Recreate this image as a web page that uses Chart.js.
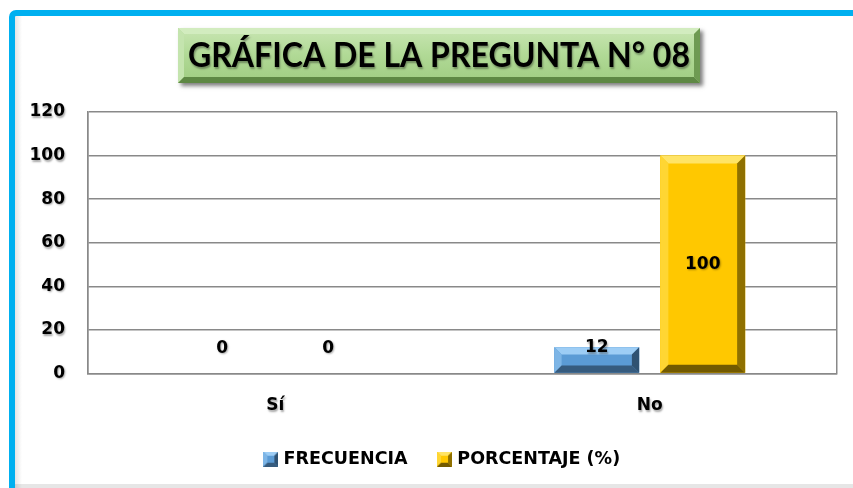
<!DOCTYPE html>
<html><head><meta charset="utf-8">
<script src="https://cdn.jsdelivr.net/npm/chart.js@4"></script>
<style>html,body{margin:0;padding:0;background:#fff;overflow:hidden}canvas{display:block}</style>
</head><body>
<canvas id="c" width="853" height="488"></canvas>
<script>
// ---- data ----
const titleText = 'GRÁFICA DE LA PREGUNTA N° 08';
const categories = ['Sí', 'No'];
const seriesNames = ['FRECUENCIA', 'PORCENTAJE (%)'];
const frecuencia = [0, 12];
const porcentaje = [0, 100];
const yMin = 0, yMax = 120, yStep = 20;

// ---- styles ----
const FONT = '"DejaVu Sans", "Liberation Sans", sans-serif';
const TFONT = 'Lato, "DejaVu Sans", sans-serif';
const palBlue = {face:'#5B9BD5', top:'#9DCDF5', left:'#7DB5E6', right:'#2F5272', bottom:'#365B7E'};
const palGold = {face:'#FFC800', top:'#FFE466', left:'#FFD633', right:'#8F7000', bottom:'#735A00'};

function bevelRect(ctx, l, t, r, bt, pal, b) {
  ctx.save();
  ctx.fillStyle = pal.face; ctx.fillRect(l, t, r - l, bt - t);
  const poly = (pts, c) => { ctx.beginPath(); ctx.moveTo(pts[0][0], pts[0][1]); for (let i = 1; i < pts.length; i++) ctx.lineTo(pts[i][0], pts[i][1]); ctx.closePath(); ctx.fillStyle = c; ctx.fill(); };
  poly([[l,t],[r,t],[r-b,t+b],[l+b,t+b]], pal.top);
  poly([[l,t],[l+b,t+b],[l+b,bt-b],[l,bt]], pal.left);
  poly([[r,t],[r,bt],[r-b,bt-b],[r-b,t+b]], pal.right);
  poly([[l,bt],[r,bt],[r-b,bt-b],[l+b,bt-b]], pal.bottom);
  ctx.restore();
}
function legendIcon(pal) {
  const cv = document.createElement('canvas'); cv.width = 15; cv.height = 15;
  bevelRect(cv.getContext('2d'), 0, 0, 15, 15, pal, 4);
  return cv;
}
function setShadow(ctx) {
  ctx.shadowColor = 'rgba(0,0,0,0.35)'; ctx.shadowOffsetX = 1; ctx.shadowOffsetY = 1.5; ctx.shadowBlur = 2;
}

const framePlugin = {
  id: 'frame',
  beforeDraw(chart) {
    const ctx = chart.ctx;
    ctx.save();
    ctx.fillStyle = '#fff'; ctx.fillRect(0, 0, chart.width, chart.height);
    ctx.fillStyle = '#e6e6e6'; ctx.fillRect(15, 484, 838, 4);
    const g = ctx.createLinearGradient(15, 0, 22, 0);
    g.addColorStop(0, 'rgba(0,0,0,0.10)'); g.addColorStop(1, 'rgba(0,0,0,0)');
    ctx.fillStyle = g; ctx.fillRect(15, 16, 7, 472);
    ctx.strokeStyle = '#00B0F0'; ctx.lineWidth = 6;
    ctx.beginPath(); ctx.moveTo(12, 490); ctx.lineTo(12, 17); ctx.arcTo(12, 13, 16, 13, 4); ctx.lineTo(860, 13); ctx.stroke();
    // title box
    const l = 178, t = 28, r = 700, b = 83;
    ctx.save();
    ctx.shadowColor = 'rgba(0,0,0,0.5)'; ctx.shadowOffsetX = 3; ctx.shadowOffsetY = 3; ctx.shadowBlur = 4;
    ctx.fillStyle = '#B3DA98'; ctx.fillRect(l, t, r - l, b - t);
    ctx.restore();
    bevelRect(ctx, l, t, r, b, {face:'#B3DA98', top:'#D2ECBF', left:'#C4E4AE', right:'#6E9A52', bottom:'#5E8844'}, 6);
    const fg = ctx.createLinearGradient(0, t + 6, 0, b - 6);
    fg.addColorStop(0, '#C3E3AC'); fg.addColorStop(0.5, '#B0D995'); fg.addColorStop(1, '#A3CF86');
    ctx.fillStyle = fg; ctx.fillRect(l + 6, t + 6, r - l - 12, b - t - 12);
    ctx.font = 'bold 34px ' + TFONT;
    const w = ctx.measureText(titleText).width;
    ctx.translate(439, 67);
    ctx.scale(502 / w, 1);
    ctx.textAlign = 'center'; ctx.textBaseline = 'alphabetic';
    ctx.shadowColor = 'rgba(0,0,0,0.35)'; ctx.shadowOffsetX = 1; ctx.shadowOffsetY = 2; ctx.shadowBlur = 2;
    ctx.fillStyle = '#000';
    ctx.fillText(titleText, 0, 0);
    ctx.restore();
  }
};

const shadowLabels = {
  id: 'shadowLabels',
  afterLayout(chart) {
    Object.values(chart.scales).forEach(s => {
      if (s._shadowWrapped) return;
      const orig = s.drawLabels;
      s.drawLabels = function (a) { const c = this.ctx; c.save(); setShadow(c); orig.call(this, a); c.restore(); };
      s._shadowWrapped = true;
    });
    if (chart.legend) {
      chart.legend.left += 25; chart.legend.right += 25;
      chart.legend.top += 2; chart.legend.bottom += 2;
    }
  }
};

const barPlugin = {
  id: 'bevelBars',
  afterDatasetsDraw(chart) {
    const ctx = chart.ctx;
    const pals = [palBlue, palGold];
    chart.data.datasets.forEach((ds, di) => {
      const meta = chart.getDatasetMeta(di);
      meta.data.forEach((el, i) => {
        const p = el.getProps(['x', 'y', 'base', 'width'], true);
        const l = p.x - p.width / 2, r = p.x + p.width / 2;
        const t = Math.min(p.y, p.base), bt = Math.max(p.y, p.base);
        const h = bt - t;
        if (h >= 1) bevelRect(ctx, l, t, r, bt, pals[di], Math.min(8, h / 3.5, p.width / 4));
        ctx.save();
        ctx.font = 'bold 17px ' + FONT;
        ctx.textAlign = 'center'; ctx.textBaseline = 'middle';
        ctx.fillStyle = '#000';
        setShadow(ctx);
        const ly = h > 40 ? (t + bt) / 2 : p.base - 25;
        ctx.fillText(String(ds.data[i]), p.x, ly);
        ctx.restore();
      });
    });
  }
};

new Chart(document.getElementById('c'), {
  type: 'bar',
  data: {
    labels: categories,
    datasets: [
      {label: seriesNames[0], data: frecuencia, backgroundColor: palBlue.face, pointStyle: legendIcon(palBlue)},
      {label: seriesNames[1], data: porcentaje, backgroundColor: palGold.face, pointStyle: legendIcon(palGold)}
    ]
  },
  options: {
    responsive: false, animation: false, devicePixelRatio: 1,
    categoryPercentage: 0.566, barPercentage: 0.8,
    layout: {padding: {left: 0, right: 16, top: 112, bottom: 12}},
    plugins: {
      tooltip: {enabled: false},
      title: {display: false},
      legend: {
        position: 'bottom',
        labels: {usePointStyle: true, pointStyleWidth: 8, padding: 33, color: '#000',
                 font: {family: FONT, size: 17.5, weight: 'bold'}}
      }
    },
    scales: {
      x: {
        grid: {display: true, offset: true, drawTicks: false,
               color: c => c.index === 1 ? 'rgba(0,0,0,0)' : '#898989', lineWidth: 1.5},
        border: {display: true, color: '#898989', width: 1.5},
        ticks: {color: '#000', padding: 22, font: {family: FONT, size: 17, weight: 'bold'}},
        afterFit: s => { s.height = 42; }
      },
      y: {
        min: yMin, max: yMax,
        grid: {color: '#898989', lineWidth: 1.5, drawTicks: false},
        border: {display: true, color: '#898989', width: 1.5},
        ticks: {stepSize: yStep, color: '#000', padding: 23, font: {family: FONT, size: 17, weight: 'bold'}},
        afterFit: s => { s.width = 88; }
      }
    }
  },
  plugins: [framePlugin, shadowLabels, barPlugin]
});
</script>
</body></html>
